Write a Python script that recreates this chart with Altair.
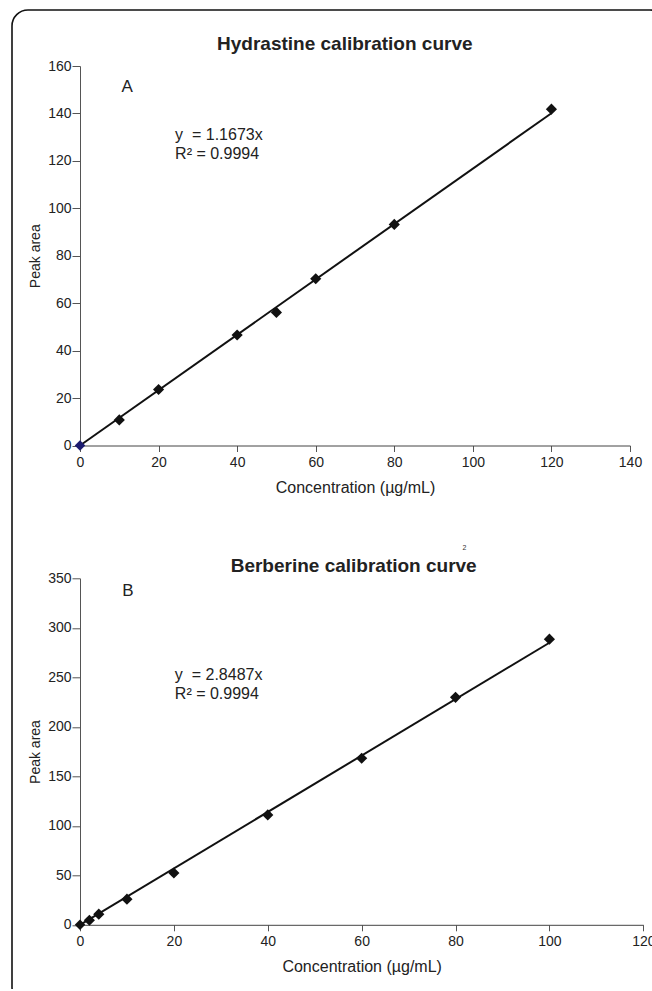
import altair as alt
import pandas as pd

FONT = "Liberation Sans, Arial, sans-serif"

# ---- Panel A: Hydrastine ----
hyd_conc = [0, 10, 20, 40, 50, 60, 80, 120]
hyd_area = [0, 10.8, 23.6, 46.6, 56.1, 70.3, 93.2, 141.8]
hyd_fit_x = [0, 120]
hyd_fit_y = [0, 140.1]
hyd_eq = ["y\u00a0\u00a0= 1.1673x", "R\u00b2\u00a0= 0.9994"]
hyd_title = "Hydrastine calibration curve"

# ---- Panel B: Berberine ----
ber_conc = [0, 2, 4, 10, 20, 40, 60, 80, 100]
ber_area = [0, 4.6, 10.7, 25.9, 52.3, 111.0, 168.2, 229.8, 288.5]
ber_fit_x = [0, 100]
ber_fit_y = [0, 284.9]
ber_eq = ["y\u00a0\u00a0= 2.8487x", "R\u00b2\u00a0= 0.9994"]
ber_title = "Berberine calibration curve"

x_title = "Concentration (\u00b5g/mL)"
y_title = "Peak area"


def axes(xmax, xstep, ymax, ystep):
    xax = alt.Axis(values=list(range(0, xmax + 1, xstep)), title=x_title, grid=False,
                   tickSize=6, labelPadding=4, labelFontSize=14, titleFontSize=16,
                   titleFontWeight="normal", titlePadding=10, domainColor="#444",
                   tickColor="#555", labelColor="#222", titleColor="#222",
                   labelFont=FONT, titleFont=FONT, labelFlush=False, labelOverlap=False)
    yax = alt.Axis(values=list(range(0, ymax + 1, ystep)), title=y_title, grid=False,
                   tickSize=8, labelPadding=1, labelFontSize=14, titleFontSize=14,
                   titleFontWeight="normal", titlePadding=5, domainColor="#555",
                   tickColor="#555", labelColor="#222", titleColor="#222",
                   labelFont=FONT, titleFont=FONT, labelOverlap=False)
    return xax, yax


def panel(conc, area, fx, fy, eq, letter, title, xmax, xstep, ymax, ystep, w, h,
          title_xy, letter_xy, eq_x, eq_y, origin_color, extra=None):
    xax, yax = axes(xmax, xstep, ymax, ystep)
    xs = alt.Scale(domain=[0, xmax], nice=False)
    ys = alt.Scale(domain=[0, ymax], nice=False)
    pts = pd.DataFrame({"conc": conc, "area": area})
    fit = pd.DataFrame({"conc": fx, "area": fy})
    line = alt.Chart(fit).mark_line(color="#111", strokeWidth=2).encode(
        x=alt.X("conc:Q", scale=xs, axis=xax),
        y=alt.Y("area:Q", scale=ys, axis=yax))
    base = alt.Chart(pts).encode(
        x=alt.X("conc:Q", scale=xs, axis=xax),
        y=alt.Y("area:Q", scale=ys, axis=yax))
    p1 = base.mark_point(shape="diamond", filled=True, size=125, color="#111", opacity=1
                         ).transform_filter("datum.conc > 0")
    p0 = base.mark_point(shape="diamond", filled=True, size=110, color=origin_color, opacity=1
                         ).transform_filter("datum.conc == 0")
    tt = alt.Chart(pd.DataFrame({"t": [title]})).mark_text(
        fontSize=19, fontWeight="bold", font=FONT, color="#222", align="center",
        baseline="alphabetic").encode(
        x=alt.datum(title_xy[0]), y=alt.datum(title_xy[1]), text="t:N")
    lt = alt.Chart(pd.DataFrame({"t": [letter]})).mark_text(
        fontSize=17, font=FONT, color="#222", align="center", baseline="middle").encode(
        x=alt.datum(letter_xy[0]), y=alt.datum(letter_xy[1]), text="t:N")
    eqd = pd.DataFrame({"t": eq, "yy": eq_y})
    et = alt.Chart(eqd).mark_text(
        fontSize=16, font=FONT, color="#222", align="left", baseline="middle").encode(
        x=alt.datum(eq_x), y=alt.Y("yy:Q", scale=ys, axis=yax), text="t:N")
    layers = [line, p1, p0, tt, lt, et]
    if extra is not None:
        layers = [extra] + layers
    return alt.layer(*layers).properties(width=w, height=h)


border = alt.Chart(pd.DataFrame({"k": [0]})).mark_rect(
    fill="white", fillOpacity=0, stroke="#111", strokeWidth=1.6, cornerRadius=16).encode(
    x=alt.value(-68), x2=alt.value(586), y=alt.value(-56), y2=alt.value(937))

top = panel(hyd_conc, hyd_area, hyd_fit_x, hyd_fit_y, hyd_eq, "A", hyd_title,
            140, 20, 160, 20, 550, 379.5, (67.4, 166.8), (12, 151.3), 24.2,
            [131.1, 123.0], "#1c1c70", extra=border)

small2 = alt.Chart(pd.DataFrame({"t": ["2"]})).mark_text(
    fontSize=7, font=FONT, color="#333", align="center", baseline="middle").encode(
    x=alt.datum(81.9), y=alt.datum(381), text="t:N")

bottom = panel(ber_conc, ber_area, ber_fit_x, ber_fit_y, ber_eq, "B", ber_title,
               120, 20, 350, 50, 563.3, 346.5, (58.3, 356.7), (10.2, 337.4), 20.2,
               [252.7, 233.4], "#111", extra=small2)

chart = alt.vconcat(top, bottom, spacing=132.3, bounds="flush").properties(
    padding={"left": 11, "top": 9, "right": -15, "bottom": -15},
    background="white"
).configure_view(strokeWidth=0, stroke="transparent")

chart.save("out.html", embed_options={"renderer": "svg", "actions": False})
